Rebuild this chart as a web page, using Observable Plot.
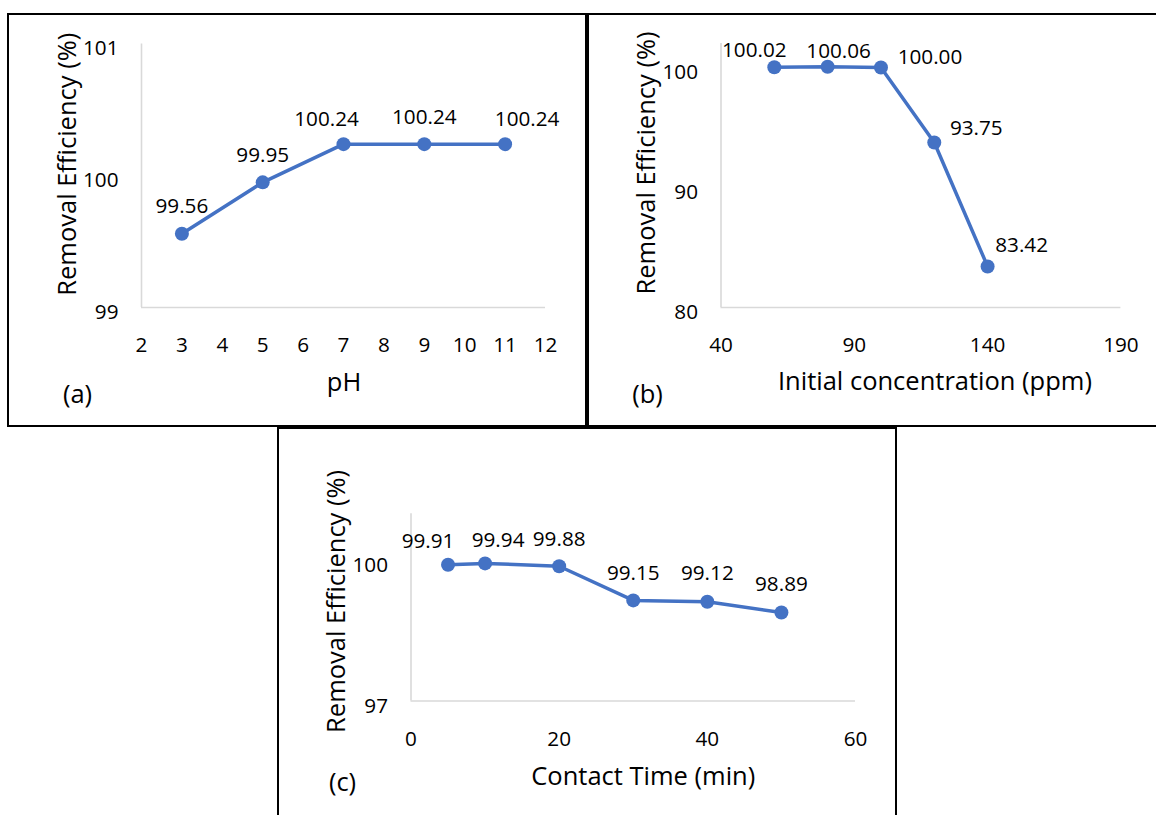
<!DOCTYPE html>
<html>
<head>
<meta charset="utf-8">
<script src="https://cdn.jsdelivr.net/npm/d3@7"></script>
<script src="https://cdn.jsdelivr.net/npm/@observablehq/plot@0.6"></script>
<style>
  html, body { margin: 0; padding: 0; background: #fff; }
  body { position: relative; width: 1156px; height: 815px; overflow: hidden; font-family: "Open Sans", sans-serif; }
  .box { position: absolute; box-sizing: border-box; border: 2.5px solid #000; }
  .chart { position: absolute; }
  .chart svg { display: block; overflow: visible; }
</style>
</head>
<body>
<div class="box" style="left:7px;top:13px;width:580px;height:414px"></div>
<div class="box" style="left:586.5px;top:13px;width:640px;height:414px"></div>
<div class="box" style="left:277px;top:426.5px;width:620px;height:500px"></div>
<div class="chart" id="panel-a" style="left:7px;top:13px"></div>
<div class="chart" id="panel-b" style="left:587px;top:13px"></div>
<div class="chart" id="panel-c" style="left:277px;top:426.5px"></div>
<script>
// (a) effect of pH
const phValues = [3, 5, 7, 9, 11];
const phRemoval = [99.56, 99.95, 100.24, 100.24, 100.24];
const phTicks = [2, 3, 4, 5, 6, 7, 8, 9, 10, 11, 12];
const phRemovalTicks = [99, 100, 101];

// (b) effect of initial concentration
const concValues = [60, 80, 100, 120, 140];
const concRemoval = [100.02, 100.06, 100.00, 93.75, 83.42];
const concTicks = [40, 90, 140, 190];
const concRemovalTicks = [80, 90, 100];

// (c) effect of contact time
const timeValues = [5, 10, 20, 30, 40, 50];
const timeRemoval = [99.91, 99.94, 99.88, 99.15, 99.12, 98.89];
const timeTicks = [0, 20, 40, 60];
const timeRemovalTicks = [97, 100];

const yTitle = "Removal Efficiency (%)";
const BLUE = "#4472C4";
const GRID = "#d9d9d9";
const TICK_FONT = 20.7;
const TITLE_FONT = 25.5;
const intFormat = (d) => String(d);

function panel(o) {
  const rows = o.xs.map((x, i) => ({x, y: o.ys[i]}));
  const labelMarks = rows.map((d, i) =>
    Plot.text([d], {
      x: "x", y: "y", text: (r) => r.y.toFixed(2),
      dx: o.labelShift[i][0], dy: o.labelShift[i][1],
      fontSize: TICK_FONT, fill: "#000"
    })
  );
  return Plot.plot({
    width: o.width,
    height: o.height,
    marginLeft: o.margin[0],
    marginTop: o.margin[1],
    marginRight: o.margin[2],
    marginBottom: o.margin[3],
    style: {fontFamily: '"Open Sans", sans-serif', color: "#000", background: "transparent", overflow: "visible"},
    x: {domain: o.xDomain, axis: null},
    y: {domain: o.yDomain, axis: null},
    marks: [
      Plot.ruleX([o.xDomain[0]], {stroke: GRID, strokeWidth: 1.6}),
      Plot.ruleY([o.yDomain[0]], {stroke: GRID, strokeWidth: 1.6}),
      Plot.axisY(o.yTicks, {tickSize: 0, tickPadding: 23, dy: o.yTickDy, fontSize: TICK_FONT, tickFormat: intFormat, label: null, fill: "#000"}),
      Plot.axisX(o.xTicks, {tickSize: 0, tickPadding: 30, fontSize: TICK_FONT, tickFormat: intFormat, label: null, fill: "#000"}),
      Plot.line(rows, {x: "x", y: "y", stroke: BLUE, strokeWidth: 3.5}),
      Plot.dot(rows, {x: "x", y: "y", r: 7, fill: BLUE, stroke: "none"}),
      ...labelMarks,
      Plot.text([o.xTitle], {frameAnchor: "bottom", textAnchor: "middle", dx: o.xTitleShift[0], dy: o.xTitleShift[1], fontSize: TITLE_FONT, fill: "#000"}),
      Plot.text([yTitle], {frameAnchor: "left", textAnchor: "middle", rotate: -90, dx: o.yTitleShift[0], dy: o.yTitleShift[1], fontSize: TITLE_FONT, fill: "#000"}),
      Plot.text([o.tag], {frameAnchor: "bottom-left", textAnchor: "middle", dx: o.tagShift[0], dy: o.tagShift[1], fontSize: TITLE_FONT, fill: "#000"})
    ]
  });
}

document.getElementById("panel-a").append(panel({
  xs: phValues, ys: phRemoval,
  xDomain: [2, 12], yDomain: [99, 101],
  xTicks: phTicks, yTicks: phRemovalTicks,
  width: 580, height: 414, margin: [134, 30.5, 42, 120],
  yTickDy: 4.5,
  labelShift: [[0, -27], [0, -27], [-17, -25], [0, -27], [22, -25]],
  xTitle: "pH", xTitleShift: [0.5, 83],
  yTitleShift: [-73.3, -11.5],
  tag: "(a)", tagShift: [-64, 95]
}));

document.getElementById("panel-b").append(panel({
  xs: concValues, ys: concRemoval,
  xDomain: [40, 190], yDomain: [80, 102],
  xTicks: concTicks, yTicks: concRemovalTicks,
  width: 569, height: 414, margin: [133.5, 30, 35.6, 120],
  yTickDy: 5,
  labelShift: [[-20, -17], [11, -15], [49, -10], [42, -14], [34, -21]],
  xTitle: "Initial concentration (ppm)", xTitleShift: [14, 82],
  yTitleShift: [-74.5, -12.5],
  tag: "(b)", tagShift: [-73.5, 95]
}));

document.getElementById("panel-c").append(panel({
  xs: timeValues, ys: timeRemoval,
  xDomain: [0, 60], yDomain: [97, 101],
  xTicks: timeTicks, yTicks: timeRemovalTicks,
  width: 620, height: 400, margin: [133.5, 86.3, 42, 126.5],
  yTickDy: 5,
  labelShift: [[-20, -23], [13, -23], [0, -27], [0, -27], [0, -28], [0, -28]],
  xTitle: "Contact Time (min)", xTitleShift: [10, 84],
  yTitleShift: [-73.7, -6],
  tag: "(c)", tagShift: [-68.5, 90]
}));
</script>
</body>
</html>
